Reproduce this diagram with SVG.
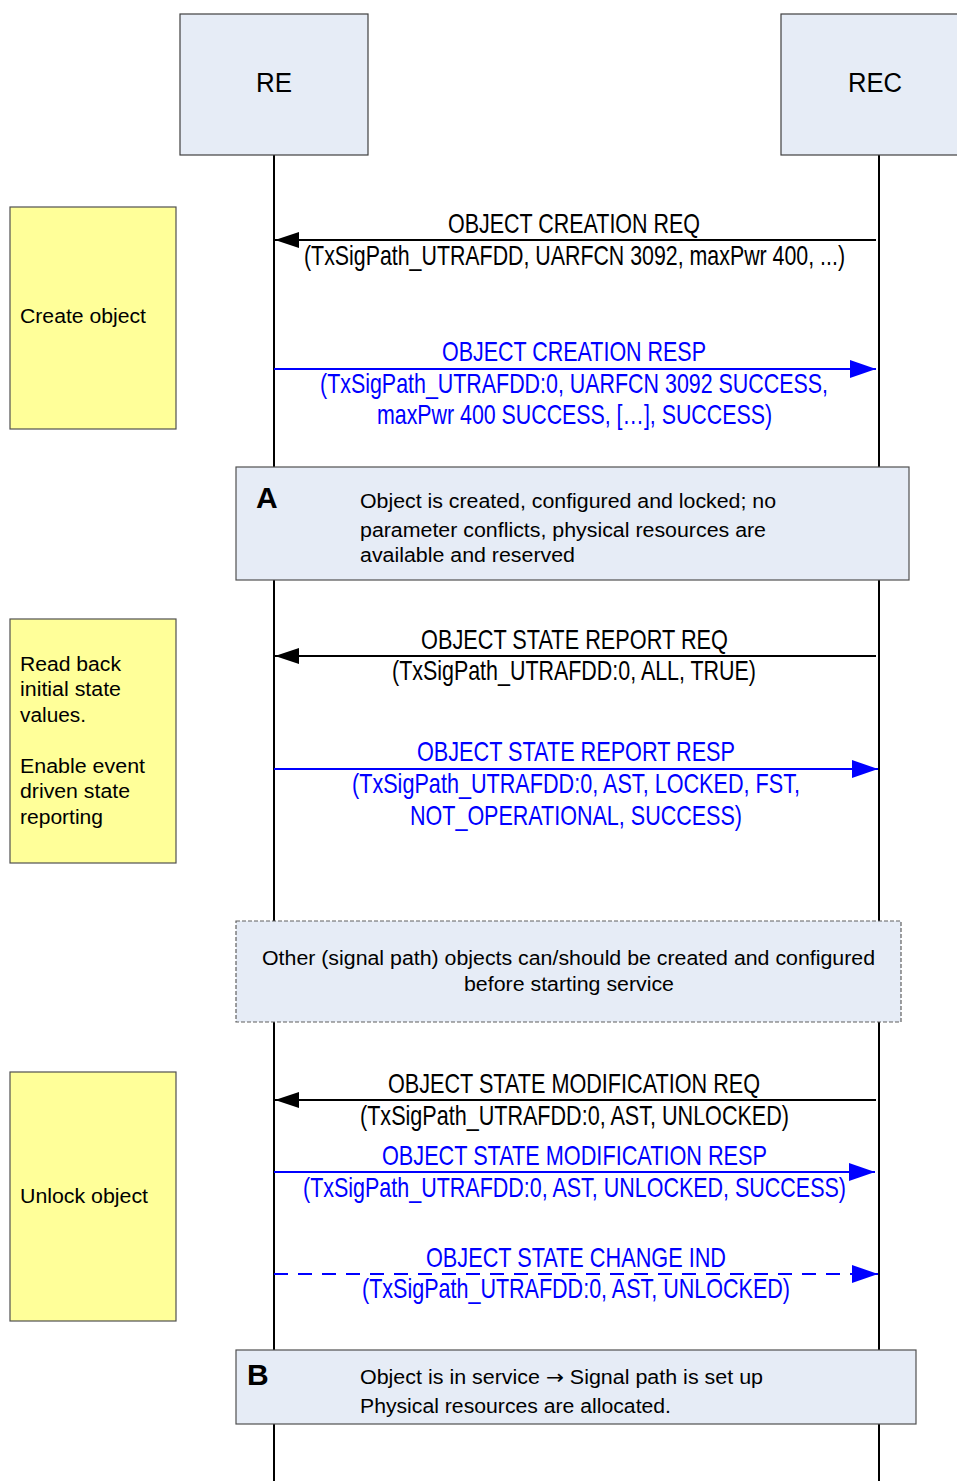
<svg xmlns="http://www.w3.org/2000/svg" width="957" height="1481" viewBox="0 0 957 1481">
<style>
.bg{fill:#ffffff}
.ent{fill:#e6ecf6;stroke:#404040;stroke-width:1.2}
.note{fill:#ffff99;stroke:#505050;stroke-width:1.2}
.state{fill:#e6ecf6;stroke:#505050;stroke-width:1.2}
.dstate{fill:#e6ecf6;stroke:#606060;stroke-width:1.2;stroke-dasharray:4 2}
.life{stroke:#000;stroke-width:2;fill:none}
.req{stroke:#000;stroke-width:2;fill:none;marker-end:url(#ahb)}
.resp{stroke:#0000ff;stroke-width:2;fill:none;marker-end:url(#ahu)}
.ind{stroke:#0000ff;stroke-width:2;fill:none;stroke-dasharray:14 10;marker-end:url(#ahu)}
text{font-family:"Liberation Sans",Arial,sans-serif}
.hd{font-size:27px;fill:#000;text-anchor:middle}
.mk{font-size:28px;fill:#000;text-anchor:middle}
.mb{font-size:28px;fill:#0000ff;text-anchor:middle}
.nt{font-size:20px;fill:#000}
.st{font-size:20px;fill:#000}
.lt{font-size:30px;font-weight:bold;fill:#000}
.arr{font-family:"DejaVu Sans",sans-serif}
</style>
<defs>
<marker id="ahb" markerUnits="userSpaceOnUse" markerWidth="26" markerHeight="18" refX="24" refY="8" orient="auto">
<path d="M0,0 L24,8 L0,16 z" fill="#000"/>
</marker>
<marker id="ahu" markerUnits="userSpaceOnUse" markerWidth="28" markerHeight="20" refX="26" refY="9" orient="auto">
<path d="M0,0 L26,9 L0,18 z" fill="#0000ff"/>
</marker>
</defs>
<rect class="bg" x="0" y="0" width="957" height="1481"/>

<g id="lifelines">
<line class="life" x1="274" y1="155" x2="274" y2="1481"/>
<line class="life" x1="879" y1="155" x2="879" y2="1481"/>
</g>

<g id="RE">
<rect class="ent" x="180" y="14" width="188" height="141"/>
<text class="hd" x="274" y="92" textLength="36" lengthAdjust="spacingAndGlyphs">RE</text>
</g>
<g id="REC">
<rect class="ent" x="781" y="14" width="190" height="141"/>
<text class="hd" x="875" y="92" textLength="54" lengthAdjust="spacingAndGlyphs">REC</text>
</g>

<g id="note-create">
<rect class="note" x="10" y="207" width="166" height="222"/>
<text class="nt" x="20" y="323" textLength="126" lengthAdjust="spacingAndGlyphs">Create object</text>
</g>
<g id="note-read">
<rect class="note" x="10" y="619" width="166" height="244"/>
<text class="nt" x="20" y="671" textLength="101" lengthAdjust="spacingAndGlyphs">Read back</text>
<text class="nt" x="20" y="696" textLength="101" lengthAdjust="spacingAndGlyphs">initial state</text>
<text class="nt" x="20" y="722" textLength="66" lengthAdjust="spacingAndGlyphs">values.</text>
<text class="nt" x="20" y="773" textLength="125" lengthAdjust="spacingAndGlyphs">Enable event</text>
<text class="nt" x="20" y="798" textLength="110" lengthAdjust="spacingAndGlyphs">driven state</text>
<text class="nt" x="20" y="824" textLength="83" lengthAdjust="spacingAndGlyphs">reporting</text>
</g>
<g id="note-unlock">
<rect class="note" x="10" y="1072" width="166" height="249"/>
<text class="nt" x="20" y="1203" textLength="128" lengthAdjust="spacingAndGlyphs">Unlock object</text>
</g>

<g id="connectors">
<line class="req" x1="876" y1="240" x2="275" y2="240"/>
<line class="resp" x1="274" y1="369" x2="876" y2="369"/>
<line class="req" x1="876" y1="656" x2="275" y2="656"/>
<line class="resp" x1="274" y1="769" x2="878" y2="769"/>
<line class="req" x1="876" y1="1100" x2="275" y2="1100"/>
<line class="resp" x1="274" y1="1172" x2="875" y2="1172"/>
<line class="ind" x1="274" y1="1274" x2="878" y2="1274"/>
</g>

<g id="msg-labels">
<text class="mk" x="574" y="233" textLength="252" lengthAdjust="spacingAndGlyphs">OBJECT CREATION REQ</text>
<text class="mk" x="574.5" y="265" textLength="541" lengthAdjust="spacingAndGlyphs">(TxSigPath_UTRAFDD, UARFCN 3092, maxPwr 400, ...)</text>
<text class="mb" x="574" y="361" textLength="264" lengthAdjust="spacingAndGlyphs">OBJECT CREATION RESP</text>
<text class="mb" x="574" y="393" textLength="508" lengthAdjust="spacingAndGlyphs">(TxSigPath_UTRAFDD:0, UARFCN 3092 SUCCESS,</text>
<text class="mb" x="574.5" y="424" textLength="395" lengthAdjust="spacingAndGlyphs">maxPwr 400 SUCCESS, […], SUCCESS)</text>
<text class="mk" x="574.5" y="649" textLength="307" lengthAdjust="spacingAndGlyphs">OBJECT STATE REPORT REQ</text>
<text class="mk" x="574" y="680" textLength="364" lengthAdjust="spacingAndGlyphs">(TxSigPath_UTRAFDD:0, ALL, TRUE)</text>
<text class="mb" x="576" y="761" textLength="318" lengthAdjust="spacingAndGlyphs">OBJECT STATE REPORT RESP</text>
<text class="mb" x="576" y="793" textLength="448" lengthAdjust="spacingAndGlyphs">(TxSigPath_UTRAFDD:0, AST, LOCKED, FST,</text>
<text class="mb" x="576" y="825" textLength="332" lengthAdjust="spacingAndGlyphs">NOT_OPERATIONAL, SUCCESS)</text>
<text class="mk" x="574" y="1093" textLength="372" lengthAdjust="spacingAndGlyphs">OBJECT STATE MODIFICATION REQ</text>
<text class="mk" x="574.5" y="1125" textLength="429" lengthAdjust="spacingAndGlyphs">(TxSigPath_UTRAFDD:0, AST, UNLOCKED)</text>
<text class="mb" x="574.5" y="1165" textLength="385" lengthAdjust="spacingAndGlyphs">OBJECT STATE MODIFICATION RESP</text>
<text class="mb" x="574.5" y="1197" textLength="543" lengthAdjust="spacingAndGlyphs">(TxSigPath_UTRAFDD:0, AST, UNLOCKED, SUCCESS)</text>
<text class="mb" x="576" y="1267" textLength="300" lengthAdjust="spacingAndGlyphs">OBJECT STATE CHANGE IND</text>
<text class="mb" x="576" y="1298" textLength="428" lengthAdjust="spacingAndGlyphs">(TxSigPath_UTRAFDD:0, AST, UNLOCKED)</text>
</g>

<g id="state-A">
<rect class="state" x="236" y="467" width="673" height="113"/>
<text class="lt" x="256" y="508">A</text>
<text class="st" x="360" y="508" textLength="416" lengthAdjust="spacingAndGlyphs">Object is created, configured and locked; no</text>
<text class="st" x="360" y="537" textLength="406" lengthAdjust="spacingAndGlyphs">parameter conflicts, physical resources are</text>
<text class="st" x="360" y="562" textLength="215" lengthAdjust="spacingAndGlyphs">available and reserved</text>
</g>

<g id="note-other">
<rect class="dstate" x="236" y="921" width="665" height="101"/>
<text class="st" x="568.5" y="965" text-anchor="middle" textLength="613" lengthAdjust="spacingAndGlyphs">Other (signal path) objects can/should be created and configured</text>
<text class="st" x="569" y="991" text-anchor="middle" textLength="210" lengthAdjust="spacingAndGlyphs">before starting service</text>
</g>

<g id="state-B">
<rect class="state" x="236" y="1350" width="680" height="74"/>
<text class="lt" x="247" y="1385">B</text>
<text class="st" x="360" y="1384" textLength="403" lengthAdjust="spacingAndGlyphs">Object is in service <tspan class="arr">→</tspan> Signal path is set up</text>
<text class="st" x="360" y="1413" textLength="311" lengthAdjust="spacingAndGlyphs">Physical resources are allocated.</text>
</g>
</svg>
